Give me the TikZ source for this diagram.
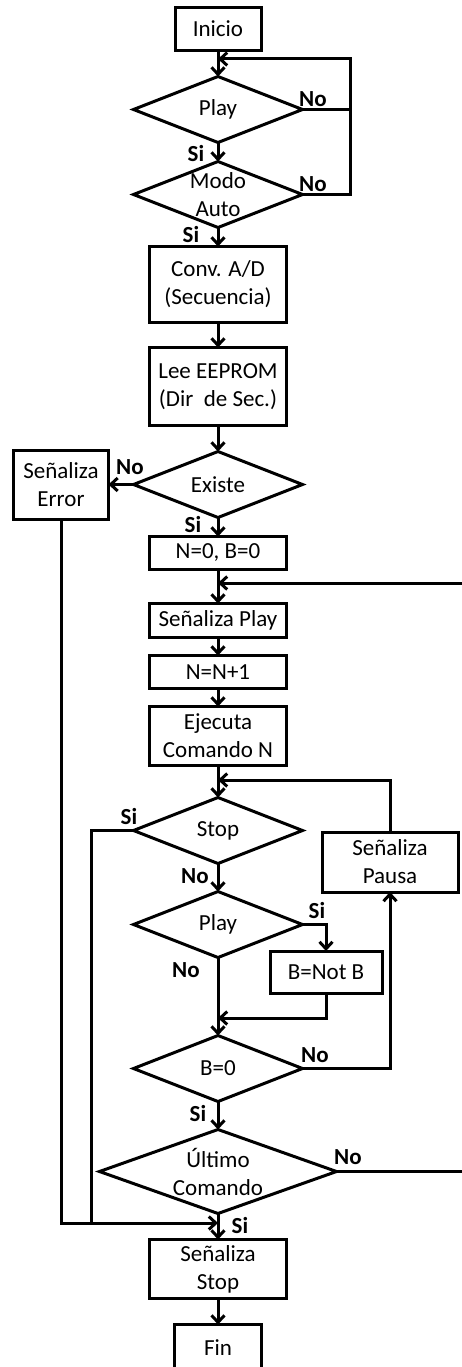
\documentclass[tikz,border=0pt]{standalone}
\usepackage{fontspec}
\setmainfont{Carlito}
\usetikzlibrary{positioning, shapes.geometric, arrows.meta}

\begin{document}
\begin{tikzpicture}[x=1pt, y=-1pt,
     font=\fontsize{23}{28}\selectfont,
     line width=3pt,
     >={Straight Barb[length=7pt,width=13pt]},
        box/.style = {rectangle, draw, align=center, inner sep=0pt, outer sep=0pt, minimum width=137pt},
        dec/.style = {diamond, draw, inner sep=0pt, outer sep=0pt, minimum width=169pt, minimum height=66pt},
        ans/.style = {font=\fontsize{23}{28}\selectfont\bfseries, inner sep=0pt}
                        ]
\useasboundingbox (0,0) rectangle (461,1367);
\node (inicio)[box, minimum width=86pt, minimum height=43pt] at (218,29) {Inicio};
\node (play)  [dec, below=26pt of inicio, label={center:Play}] {};
\node (modo)  [dec, below=19pt of play, label={[align=center]center:Modo\\Auto}] {};
\node (conv)  [box, minimum height=76pt, below=19pt of modo] {Conv. A/D\\(Secuencia)};
\node (lee)   [box, minimum height=78pt, below=25pt of conv] {Lee EEPROM\\(Dir\ \ de Sec.)};
\node (existe)[dec, below=26pt of lee, label={center:Existe}] {};
\node (error) [box, minimum width=95pt, minimum height=69pt, left=25pt of existe] {Señaliza\\Error};
\node (ini)   [box, minimum height=33pt, below=19pt of existe] {N=0, B=0};
\node (splay) [box, minimum height=34pt, below=34pt of ini] {Señaliza Play};
\node (incr)  [box, minimum height=33pt, below=18pt of splay] {N=N+1};
\node (ejec)  [box, minimum height=59pt, below=18pt of incr] {Ejecuta\\Comando N};
\node (stop)  [dec, below=32pt of ejec, label={center:Stop}] {};
\node (pausa) [box, minimum width=136pt, minimum height=60pt] at (390,862) {Señaliza\\Pausa};
\node (playb) [dec, below=28pt of stop, label={center:Play}] {};
\node (notb)  [box, minimum width=112pt, minimum height=42pt] at (326,972) {B=Not B};
\node (bcero) [dec, below=78pt of playb, label={center:{B=0}}] {};
\node (ultimo)[dec, minimum width=237pt, minimum height=84pt, below=28pt of bcero,
               label={[align=center]center:Último\\Comando}] {};
\node (sstop) [box, minimum height=59pt, below=26pt of ultimo] {Señaliza\\Stop};
\node (fin)   [box, minimum width=87pt, minimum height=46pt, below=26pt of sstop] {Fin};
% Si / No
\node (noplay)   [ans] at (313,99)   {No};
\node (nomodo)   [ans] at (313,184)  {No};
\node (siplay)   [ans] at (196,154)  {Si};
\node (simodo)   [ans] at (191,235)  {Si};
\node (noexiste) [ans] at (130,467)  {No};
\node (siexiste) [ans] at (193,525)  {Si};
\node (sistop)   [ans] at (129,816)  {Si};
\node (nostop)   [ans] at (195,876)  {No};
\node (siplayb)  [ans] at (317,910)  {Si};
\node (noplayb)  [ans] at (186,970)  {No};
\node (nobcero)  [ans] at (315,1055) {No};
\node (sibcero)  [ans] at (198,1113) {Si};
\node (noultimo) [ans] at (348,1157) {No};
\node (siultimo) [ans] at (240,1225) {Si};
% puntos de union
\coordinate (ja) at (218,59);
\coordinate (ra) at (350,59);
\coordinate (jb) at (218,583);
\coordinate (rb) at (474,583);
\coordinate (jc) at (218,780);
\coordinate (jd) at (218,1223);
\coordinate (ld) at (91,1223);
\coordinate (je) at (218,1018);
\draw[->] (inicio) to (play);
\draw[->] (play) to (modo);
\draw[->] (modo) to (conv);
\draw[->] (conv) to (lee);
\draw[->] (lee) to (existe);
\draw[->] (existe) to (error);
\draw[->] (existe) to (ini);
\draw[->] (ini) to (splay);
\draw[->] (splay) to (incr);
\draw[->] (incr) to (ejec);
\draw[->] (ejec) to (stop);
\draw[->] (stop) to (playb);
\draw[->] (playb) to (bcero);
\draw[->] (bcero) to (ultimo);
\draw[->] (ultimo) to (sstop);
\draw[->] (sstop) to (fin);
\draw (play.east) -- (play.east -| ra);
\draw[->] (modo.east) -| (ra) -- (ja);
\draw[->] (playb.east) -| (notb);
\draw[->] (notb) |- (je);
\draw[->] (bcero.east) -| (pausa);
\draw[->] (pausa) |- (jc);
\draw (stop.west) -| (ld);
\draw[->] (error) |- (jd);
\draw[->] (ultimo.east) -- (ultimo.east -| rb) -- (rb) -- (jb);
\end{tikzpicture}
\end{document}
